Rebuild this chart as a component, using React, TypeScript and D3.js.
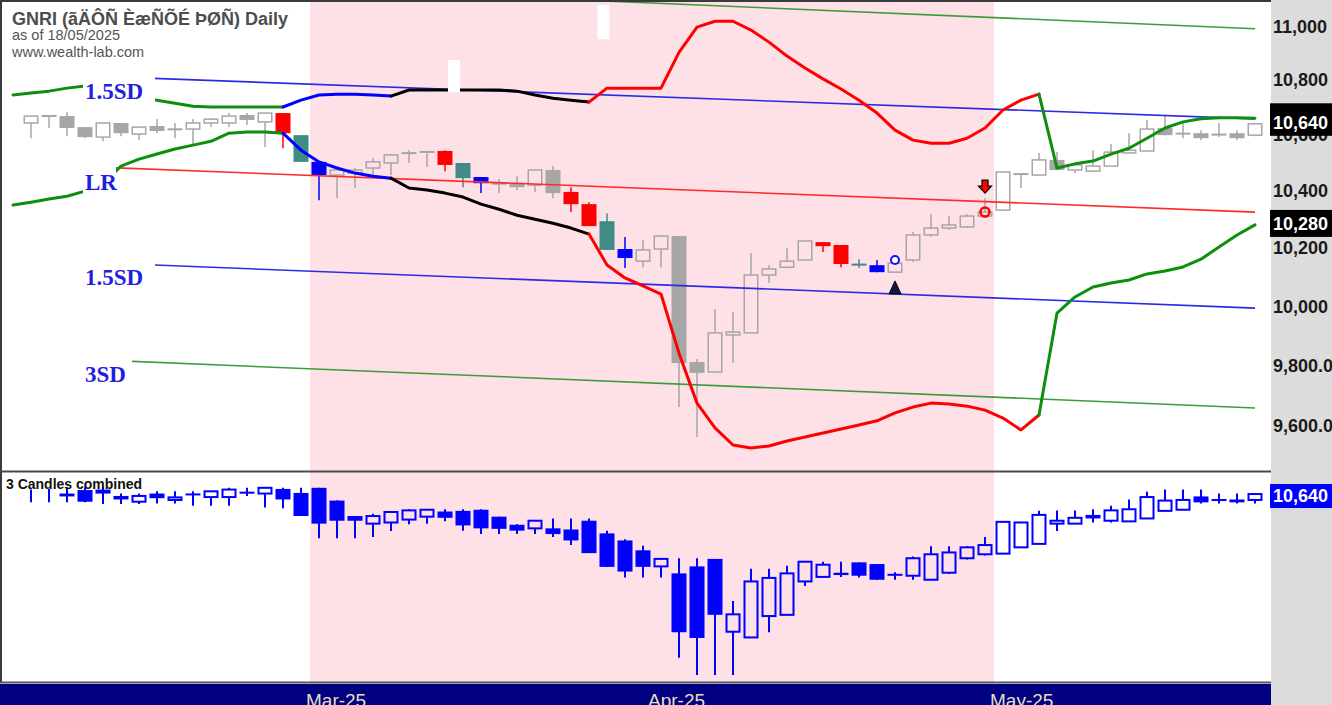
import React from "react";
import * as d3 from "d3";

// ---------------- data ----------------
const titleText = "GNRI (ãÄÔÑ ÈæÑÕÉ ÞØÑ) Daily";
const asOfText = "as of 18/05/2025";
const siteText = "www.wealth-lab.com";
const lowerPaneTitle = "3 Candles combined";

const opens = [10643,10665,10668,10628,10592,10643,10603,10632,10621,10621,10643,10643,10672,10647,10679,10599,10503,10456,10463,10481,10499,10531,10535,10542,10499,10449,10427,10427,10420,10474,10396,10353,10293,10196,10154,10196,10241,9811,9778,9902,9909,10106,10133,10158,10220,10210,10144,10140,10116,10158,10245,10269,10273,10311,10332,10456,10456,10510,10474,10470,10488,10535,10542,10625,10606,10606,10603,10606,10599];
const highs = [10668,10672,10683,10628,10643,10643,10628,10657,10643,10657,10661,10679,10679,10679,10679,10599,10503,10474,10481,10517,10528,10545,10542,10545,10499,10449,10442,10452,10474,10488,10413,10360,10321,10238,10227,10245,10241,9821,9990,9980,10182,10140,10200,10224,10220,10210,10161,10158,10158,10255,10318,10311,10318,10374,10467,10463,10535,10538,10499,10545,10567,10606,10654,10668,10643,10617,10643,10617,10640];
const lows = [10588,10625,10595,10588,10577,10595,10581,10606,10588,10567,10628,10628,10636,10556,10552,10503,10367,10374,10410,10453,10456,10499,10485,10470,10413,10392,10392,10403,10396,10374,10325,10276,10193,10130,10133,10133,9662,9564,9778,9808,9909,10079,10133,10158,10186,10133,10130,10116,10116,10151,10238,10262,10269,10307,10332,10410,10456,10474,10463,10470,10488,10535,10542,10599,10588,10581,10592,10581,10595];
const closes = [10668,10672,10625,10592,10643,10606,10628,10614,10619,10643,10657,10668,10654,10679,10606,10503,10456,10474,10474,10503,10528,10538,10542,10492,10445,10427,10424,10413,10474,10392,10353,10276,10193,10165,10193,10241,9808,9775,9909,9912,10106,10127,10154,10224,10206,10144,10140,10116,10147,10245,10269,10280,10311,10325,10467,10463,10510,10474,10492,10488,10538,10545,10621,10599,10603,10588,10599,10588,10640];

const redBars = [14, 23, 30, 31, 44, 45];
const tealBars = [15, 24, 32, 46];
const blueBars = [16, 25, 33, 47];

// thick band lines, first value belongs to bar -1
const bandFirstBar = -1;
const upperBand = [10745,10752,10759,10770,10778,10770,10752,10737,10726,10715,10704,10701,10701,10701,10701,10701,10726,10745,10748,10748,10745,10741,10763,10763,10763,10763,10763,10763,10759,10745,10733,10726,10719,10770,10770,10770,10770,10902,10996,11018,11018,10985,10940,10888,10844,10804,10767,10726,10679,10617,10581,10570,10570,10588,10625,10690,10726,10748,10481,10496,10506,10531,10552,10588,10625,10647,10658,10662,10662,10660];
const lowerBand = [10350,10360,10371,10381,10399,10427,10488,10513,10531,10549,10563,10577,10606,10610,10610,10606,10545,10503,10481,10463,10452,10445,10410,10403,10392,10378,10353,10335,10314,10300,10286,10269,10248,10141,10096,10069,10041,9841,9675,9594,9538,9528,9535,9551,9564,9577,9590,9603,9617,9643,9662,9675,9672,9665,9652,9626,9587,9636,9976,10031,10065,10079,10089,10110,10120,10134,10161,10203,10245,10280];
const bandSegmentStarts = [-1, 14, 20, 31, 56];
const bandSegmentEnds = [14, 20, 31, 56, 68];
const bandSegmentStates = ["green", "blue", "black", "red", "green"];

// regression channel
const channelFromBar = 3;
const channelToBar = 68;
const channelNames = ["3SD", "1.5SD", "LR", "1.5SD", "3SD"];
const channelStartValues = [11178, 10815, 10486, 10150, 9820];
const channelEndValues = [10990, 10658, 10325, 9993, 9659];

const priceTicks = [11000, 10800, 10600, 10400, 10200, 10000, 9800, 9600];
const priceTickLabels = ["11,000", "10,800", "10,600", "10,400", "10,200", "10,000", "9,800.00", "9,600.00"];

const monthStartBars = [16, 35, 54];
const monthLabels = ["Mar-25", "Apr-25", "May-25"];

const shadedFromBar = 16;
const shadedToBar = 53;

const markerBars = [48, 48, 53, 53];
const markerPrices = [10158, 10062, 10325, 10413];
const markerKinds = ["blueCircle", "upTriangle", "redCircle", "downArrow"];

const blankBars = [23.5, 31.8];
const blankTopPrices = [10873, 11079];
const blankBottomPrices = [10756, 10951];

// ---------------- styles ----------------
const W = 1332;
const H = 705;
const PLOT_R = 1271;
const TOP_B = 471;
const LOW_T = 472;
const LOW_B = 683;
const SANS = "'Liberation Sans', Arial, sans-serif";
const SERIF = "'Liberation Serif', 'Times New Roman', serif";
const GRAY = "#a6a6a6";
const TEAL = "#3f8b87";
const bandColors: Record<string, string> = { green: "#0d8f0d", blue: "#0000ff", black: "#000000", red: "#ff0000" };
const channelColors = ["#3c9c3c", "#2b2be6", "#ff2a2a", "#2b2be6", "#3c9c3c"];
const labelBoxWidth: Record<string, number> = { "3SD": 49, "1.5SD": 72, "LR": 33 };

export default function App() {
  const x = d3.scaleLinear().domain([0, 68]).range([31, 1255]);
  const yTop = d3.scaleLog().domain([9454, 11098]).range([TOP_B, 0]);
  const yLow = d3.scaleLog().domain([9519, 10779]).range([LOW_B, LOW_T]);
  const fmt = d3.format(",.0f");
  const half = 7.5;

  const colorOf = (i: number) =>
    redBars.includes(i) ? "#ff0000" : tealBars.includes(i) ? TEAL : blueBars.includes(i) ? "#0000ff" : null;

  const drawCandle = (key: string, cx: number, o: number, h: number, l: number, c: number,
    y: (v: number) => number, color: string, hollowUp: boolean, sw: number) => {
    const top = y(Math.max(o, c));
    const bot = y(Math.min(o, c));
    const up = c >= o;
    const hollow = hollowUp && up && bot - top >= 2;
    const bh = Math.max(bot - top, 2);
    if (hollow) {
      return (
        <g key={key}>
          <line x1={cx} x2={cx} y1={y(h)} y2={top} stroke={color} strokeWidth={sw} />
          <line x1={cx} x2={cx} y1={bot} y2={y(l)} stroke={color} strokeWidth={sw} />
          <rect x={cx - half + sw / 2} y={top} width={2 * half - sw} height={bot - top} fill="none" stroke={color} strokeWidth={sw} />
        </g>
      );
    }
    return (
      <g key={key}>
        <line x1={cx} x2={cx} y1={y(h)} y2={y(l)} stroke={color} strokeWidth={sw} />
        <rect x={cx - half} y={(top + bot) / 2 - bh / 2} width={2 * half} height={bh} fill={color} />
      </g>
    );
  };

  const bandLine = d3.line<[number, number]>().x((d) => x(d[0])).y((d) => yTop(d[1]));
  const segPaths = (band: number[], key: string) =>
    bandSegmentStarts.map((s, k) => {
      const pts: [number, number][] = [];
      for (let b = s; b <= bandSegmentEnds[k]; b++) pts.push([b, band[b - bandFirstBar]]);
      return (
        <path key={key + k} d={bandLine(pts) || ""} fill="none" stroke={bandColors[bandSegmentStates[k]]}
          strokeWidth={3} strokeLinejoin="round" strokeLinecap="round" />
      );
    });

  const lastUpper = upperBand[upperBand.length - 1];
  const lastLower = lowerBand[lowerBand.length - 1];
  const lastClose = closes[closes.length - 1];

  return (
    <div style={{ position: "absolute", left: 0, top: 0 }}>
      <svg width={W} height={H} style={{ display: "block" }}>
        <defs>
          <clipPath id="topClip"><rect x={0} y={0} width={PLOT_R} height={TOP_B} /></clipPath>
          <clipPath id="lowClip"><rect x={0} y={LOW_T} width={PLOT_R} height={LOW_B - LOW_T} /></clipPath>
        </defs>
        <rect x={0} y={0} width={W} height={H} fill="#ffffff" />
        <rect x={PLOT_R} y={0} width={W - PLOT_R} height={H} fill="#dcdcdc" />
        <rect x={x(shadedFromBar) - 9} y={0} width={x(shadedToBar) - x(shadedFromBar) + 18} height={LOW_B} fill="#fde1e6" />

        {/* top pane */}
        <g clipPath="url(#topClip)">
          {opens.map((o, i) => {
            const col = colorOf(i);
            return drawCandle("c" + i, x(i), o, highs[i], lows[i], closes[i], yTop, col || GRAY, !col, 1.5);
          })}
          {channelNames.map((n, k) => (
            <line key={"ch" + k} x1={x(channelFromBar)} x2={x(channelToBar)}
              y1={yTop(channelStartValues[k])} y2={yTop(channelEndValues[k])}
              stroke={channelColors[k]} strokeWidth={1.6} />
          ))}
          {segPaths(upperBand, "u")}
          {segPaths(lowerBand, "l")}
          {channelNames.map((n, k) => {
            const ly = yTop(channelStartValues[k]);
            const lx = x(channelFromBar) - 2;
            return (
              <g key={"cl" + k}>
                <rect x={lx} y={ly - 2} width={labelBoxWidth[n]} height={30} fill="#ffffff" />
                <text x={lx + 2} y={ly + 23} fontFamily={SERIF} fontWeight="bold" fontSize={23} fill="#1f1fe0">{n}</text>
              </g>
            );
          })}
          {markerKinds.map((k, m) => {
            const cx = x(markerBars[m]);
            const cy = yTop(markerPrices[m]);
            if (k === "blueCircle")
              return <circle key={"m" + m} cx={cx} cy={cy} r={4} fill="#ffffff" stroke="#1010ff" strokeWidth={2} />;
            if (k === "redCircle")
              return <circle key={"m" + m} cx={cx} cy={cy} r={4.5} fill="none" stroke="#ff0000" strokeWidth={2.5} />;
            if (k === "upTriangle")
              return <path key={"m" + m} d={`M${cx},${cy - 7} L${cx + 6},${cy + 6} L${cx - 6},${cy + 6} Z`} fill="#15154a" stroke="#000" strokeWidth={1} />;
            return (
              <path key={"m" + m}
                d={`M${cx - 3},${cy - 7} H${cx + 3} V${cy - 1} H${cx + 6.5} L${cx},${cy + 6} L${cx - 6.5},${cy - 1} H${cx - 3} Z`}
                fill="#ff0000" stroke="#000" strokeWidth={1.2} />
            );
          })}
          {blankBars.map((b, k) => (
            <rect key={"bl" + k} x={x(b) - 6} y={yTop(blankTopPrices[k])} width={12}
              height={yTop(blankBottomPrices[k]) - yTop(blankTopPrices[k])} fill="#ffffff" />
          ))}
        </g>

        {/* lower pane: 3 candles combined */}
        <g clipPath="url(#lowClip)">
          {opens.map((o, i) => {
            const from = Math.max(0, i - 2);
            const hh = d3.max(highs.slice(from, i + 1)) as number;
            const ll = d3.min(lows.slice(from, i + 1)) as number;
            if (i < 2)
              return <line key={"lc" + i} x1={x(i)} x2={x(i)} y1={yLow(hh)} y2={yLow(ll)} stroke="#0000ff" strokeWidth={2} />;
            return drawCandle("lc" + i, x(i), opens[i - 2], hh, ll, closes[i], yLow, "#0000ff", true, 2);
          })}
        </g>

        {/* frame */}
        <line x1={0} x2={PLOT_R} y1={1} y2={1} stroke="#3a3a3a" strokeWidth={2} />
        <line x1={1} x2={1} y1={0} y2={LOW_B} stroke="#3a3a3a" strokeWidth={2} />
        <line x1={0} x2={PLOT_R} y1={TOP_B + 0.5} y2={TOP_B + 0.5} stroke="#4a4a4a" strokeWidth={2} />
        <line x1={0} x2={PLOT_R} y1={LOW_B - 0.5} y2={LOW_B - 0.5} stroke="#555555" strokeWidth={2} />
        <rect x={0} y={LOW_B + 1} width={PLOT_R} height={H - LOW_B - 1} fill="#000080" />
        {monthStartBars.map((b, k) => (
          <text key={"mo" + k} x={x(b) - 13} y={707} fontFamily={SANS} fontSize={19} fill="#e6dfc0">{monthLabels[k]}</text>
        ))}

        {/* right axis */}
        {priceTicks.map((p, k) => (
          <text key={"t" + k} x={1273} y={yTop(p) + 6.5} fontFamily={SANS} fontWeight="bold" fontSize={18} fill="#1a1a1a">{priceTickLabels[k]}</text>
        ))}
        {[lastUpper, lastLower, lastClose].map((v, k) => {
          const cy = yTop(v) - 1.5;
          return (
            <g key={"pl" + k}>
              <rect x={1270} y={cy - 13.5} width={62} height={27} fill="#000000" />
              <text x={1273} y={cy + 7} fontFamily={SANS} fontWeight="bold" fontSize={18} fill="#ffffff">{fmt(v)}</text>
            </g>
          );
        })}
        <rect x={1270} y={yLow(lastClose) - 10} width={62} height={24} fill="#0000ff" />
        <text x={1273} y={yLow(lastClose) + 8} fontFamily={SANS} fontWeight="bold" fontSize={18} fill="#ffffff">{fmt(lastClose)}</text>

        {/* titles */}
        <text x={12} y={25} fontFamily={SANS} fontWeight="bold" fontSize={18} fill="#4d4d4d">{titleText}</text>
        <text x={12} y={40} fontFamily={SANS} fontSize={14.5} fill="#555555">{asOfText}</text>
        <text x={12} y={57} fontFamily={SANS} fontSize={14.5} fill="#555555">{siteText}</text>
        <text x={6} y={489} fontFamily={SANS} fontWeight="bold" fontSize={14} fill="#111111">{lowerPaneTitle}</text>
      </svg>
    </div>
  );
}
